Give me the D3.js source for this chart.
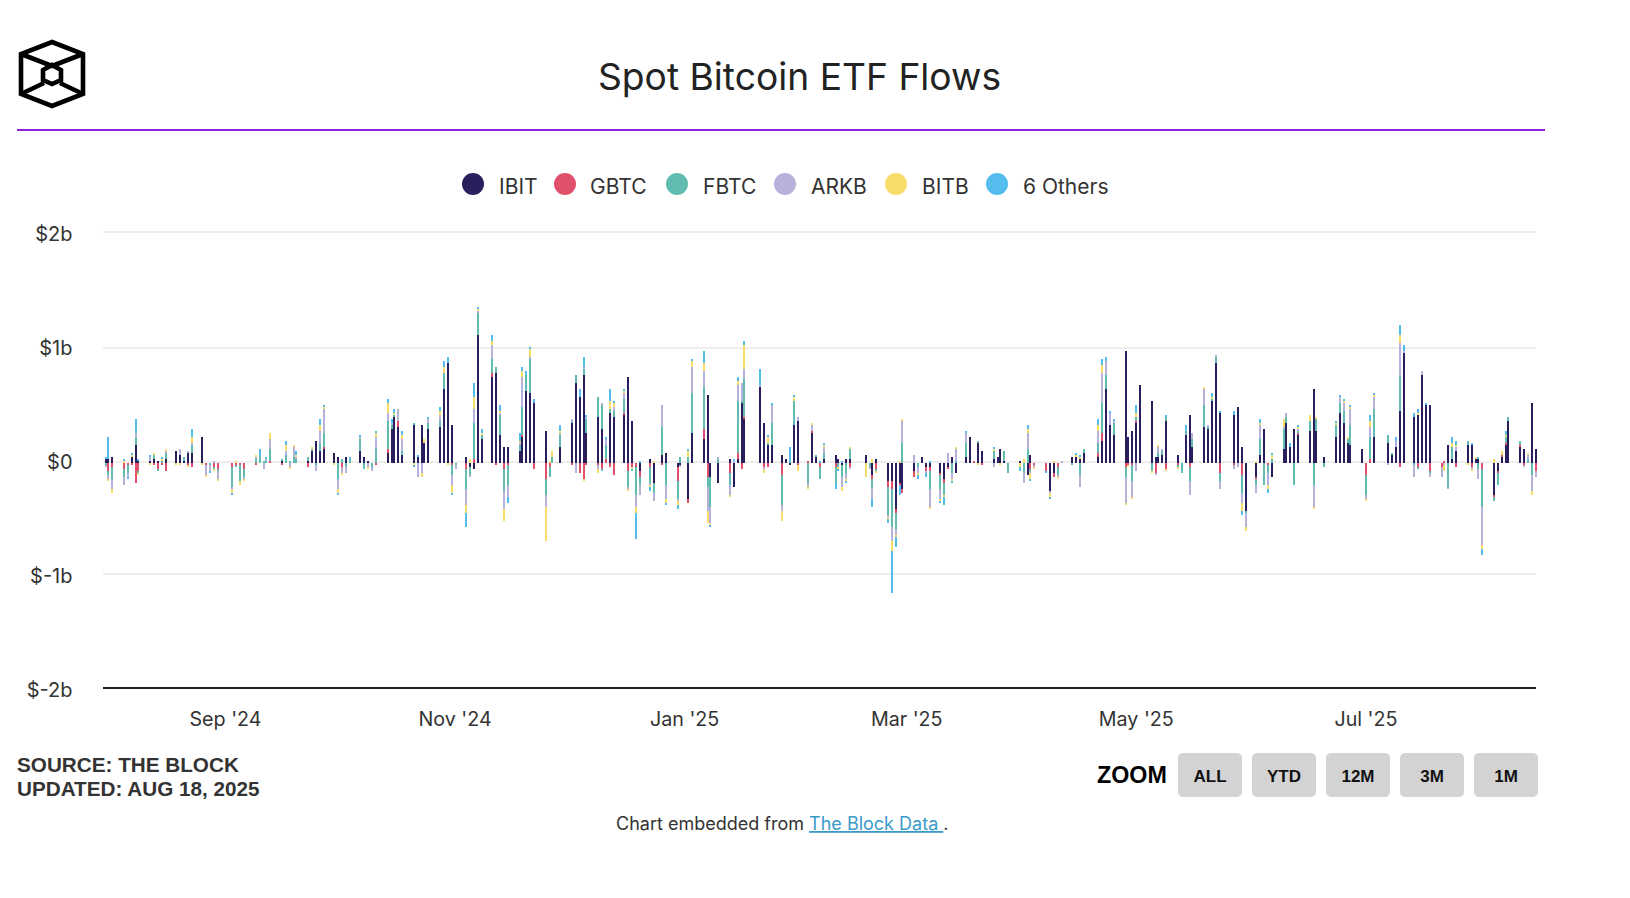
<!DOCTYPE html>
<html>
<head>
<meta charset="utf-8">
<style>
html, body { margin: 0; padding: 0; background: #fff; }
svg { display: block; }
text { font-family: "Inter", "Noto Sans", sans-serif; fill: #333; }
.bold { font-family: "Liberation Sans", Arial, sans-serif; font-weight: 700; }
</style>
</head>
<body>
<svg id="chart" width="1630" height="898"></svg>
<script src="https://d3js.org/d3.v7.min.js"></script>
<script>
// daily net flows in $m, one value per weekday from Jul 31 2024 to Aug 15 2025 (holidays are 0)
const ibit = [35,35,53,
  0,0,53,158,18, 18,35,18,0,35, 105,70,18,88,88, 228,0,0,0,0,
  0,0,0,0,0, 0,0,0,0,0, 18,0,0,0,0, 18,105,193,105,123,
  88,53,0,53,0, 105,53,18,0,0, 88,298,403,315,70, 333,53,333,175,298,
  315,648,875,333,0, 53,-35,-53,1120,210, 753,788,245,140,140, 105,228,630,613,525, 280,0,0,0,140,
  350,700,578,770,263, 403,298,0,438,403, 420,753,368,0,-70, 35,-175,0,70,88,
  -35,-18,0,-315,263, 210,595,-123,0,-175, 35,-210,35,525,385, 0,665,350,158,158, 70,35,-18,333,368,
  0,263,53,0,35, 70,35,-18,35,35, 0,70,0,-105,35, -158,-158,-403,-175,-228,
  -70,0,53,-35,-35, -88,-140,-35,53,-88, 53,228,0,175,105, 35,53,123,18,0,
  18,0,-105,70,0, 0,-245,-88,0,0, 53,53,35,88,0, 53,193,648,333,245,
  980,228,280,350,683, 543,53,53,70,368, 70,0,245,420,140, 315,298,543,875,438, 0,420,490,140,-420,
  -123,70,298,0,-123, 123,350,140,298,245, 280,648,280,0,53, 228,438,350,175,158,
  123,0,0,228,0, 175,70,140,455,963, 403,420,770,508,508, 0,0,158,35,105,
  158,158,35,35,0, -280,-70,53,158,368, 140,123,0,525,123];
const gbtc = [0,-70,-35,
  -53,-18,-18,-175,-70, 0,-18,-53,-18,-70, 0,0,0,-18,-35, 0,-18,0,-35,-53,
  0,-35,-18,-18,-53, -18,0,0,0,18, -18,0,0,0,0, -35,0,0,0,18,
  0,0,-35,0,0, 0,0,0,0,-18, 35,0,0,53,0, 0,0,0,0,0,
  0,0,0,-18,0, -53,0,35,0,0, 35,-18,0,-53,-18, 0,18,0,0,-53, -140,-35,0,0,0,
  -18,0,-88,-140,-18, -18,-53,35,-35,-105, 18,-70,-35,-35,-53, -35,0,0,-18,0,
  -123,0,0,-35,0, 88,-123,0,0,0, -88,0,53,-53,18, 0,0,-35,-35,0, -105,0,0,0,-18,
  18,18,0,-35,0, -35,0,0,0,-35, 0,0,0,-35,-53, -53,-70,-35,-18,-35,
  -53,0,0,-35,-35, -18,-35,-18,0,0, 0,0,18,0,-18, 0,0,0,0,0,
  0,0,0,-53,-18, -70,0,-35,-35,0, 0,0,0,0,0, 35,70,0,0,0,
  -35,-18,-18,18,0, 0,-88,0,0,-53, -18,0,0,-35,0, 0,0,0,0,-88, 0,-18,0,-105,0,
  -18,0,0,-18,0, 0,0,0,0,18, 0,0,0,0,0, 0,0,0,0,0,
  0,-105,35,0,0, 0,0,0,-35,0, 0,-35,0,0,-70, -35,18,0,0,-35,
  0,-35,0,0,-53, -18,-18,18,18,0, 18,-18,0,0,-70];
const fbtc = [-18,-35,-105,
  -70,-70,0,70,-18, 0,35,-18,18,53, 0,0,35,0,70, 0,0,-18,-18,-18,
  0,-175,-18,-140,-70, 35,70,18,18,105, 18,70,18,53,35, 35,18,-18,70,123,
  0,-140,35,-35,35, 105,-53,0,-35,123, 245,35,18,0,35, 18,0,0,0,53,
  53,140,0,-88,-18, -175,-70,315,193,35, 123,53,175,-193,-175, 53,245,140,298,0, -140,-88,53,0,105,
  18,70,0,53,123, 175,210,123,35,53, 123,-140,0,-245,-70, -140,-88,0,245,-193,
  -158,53,0,53,350, 368,-88,-263,0,35, -105,0,455,18,333, 0,0,0,18,193, -263,0,18,210,0,
  -175,0,18,-105,53, -140,-35,-105,-88,88, 0,0,-35,-88,-18, -245,-333,-140,0,175,
  0,-35,0,0,-158, -123,-105,0,-88,18, 123,0,0,18,0, 70,0,0,88,-88,
  0,-88,123,-18,0, 0,0,0,-70,0, -18,0,-105,35,0, 88,263,123,0,105,
  -88,0,-140,35,0, -70,0,35,35,35, -18,-88,35,-123,70, 193,18,18,53,-70, 0,0,0,-158,-18,
  -53,140,-193,-70,35, 175,53,0,-193,18, 88,-193,105,0,-35, 105,88,105,35,175,
  0,-175,193,245,0, 70,18,0,315,0, -18,-18,0,0,-18, 0,0,-210,105,0,
  35,0,0,-53,-333, -35,-105,0,53,35, 35,0,35,-105,0];
const arkb = [-18,-35,-88,
  -70,-35,0,35,0, 35,0,0,0,18, 0,53,0,18,18, 0,-88,-53,18,-70,
  0,-18,0,0,-18, 18,0,-53,18,88, 0,35,-35,88,18, 0,0,-53,105,210,
  0,-88,-53,-53,0, 18,0,-35,-35,105, 70,18,0,105,105, 0,-123,-88,0,35,
  53,0,0,-88,-35, -140,-18,123,18,0, 123,0,18,-158,-105, 18,263,0,18,0, -105,0,0,0,18,
  18,-88,0,18,18, -35,18,53,0,35, 53,-18,0,-105,-88, -18,-70,0,193,-123,
  -18,-18,0,0,228, 140,-210,-140,0,18, -88,18,140,158,88, 0,18,-18,0,158, -53,0,0,0,35,
  -35,53,0,0,53, 0,0,-88,-53,-18, 0,0,-18,-88,0, -18,-123,-53,0,193,
  70,-53,0,-18,-158, -88,0,88,-53,105, 88,0,0,0,0, -35,0,0,0,0,
  0,-88,140,-18,-18, 0,-18,0,-18,18, 0,0,-105,0,0, 105,263,123,105,18,
  -228,0,-140,-70,0, 0,-18,53,18,0, 0,0,0,-123,53, 140,18,0,18,-70, 0,-35,-35,-88,-123,
  -70,123,0,-105,0, 18,35,0,0,18, 0,-193,0,0,0, 0,53,70,0,140,
  0,-35,88,105,0, -18,0,53,280,18, -105,0,35,0,-35, -88,-18,-18,0,35,
  0,-18,0,-88,-333, 0,0,0,0,0, 0,-18,35,-140,-53];
const bitb = [0,-18,-35,
  18,0,18,0,-18, -18,18,0,18,18, -18,-18,0,-18,53, -18,-18,0,-18,-18,
  0,-35,18,-35,-18, 18,0,0,0,53, 0,53,-18,18,18, 0,18,0,53,18,
  -18,-35,-18,0,0, 0,0,-18,0,35, 88,0,18,0,35, -18,0,-35,35,0,
  35,53,-18,-70,0, -70,35,105,18,18, 35,0,18,-105,0, 18,53,0,70,0, -298,18,53,0,18,
  0,0,0,-18,0, -35,0,0,70,35, 18,-18,-18,-53,0, -18,18,0,0,-35,
  -35,0,0,53,53, 70,-105,-18,0,0, -18,0,35,0,210, 0,0,-35,53,0, -88,0,0,35,-53,
  -18,18,0,0,18, 0,-18,-35,-18,18, 0,-123,0,35,-18, -18,-88,-18,18,18,
  0,-18,0,0,-18, -18,-18,0,-18,18, 0,0,0,-18,0, 18,0,-18,0,0,
  -35,35,35,-53,-18, 0,-35,18,-18,0, 0,18,18,0,0, 53,70,0,0,0,
  -18,-18,-18,35,0, -18,0,18,0,-18, -18,0,0,0,0, 18,0,18,0,0, 0,0,0,-70,-35,
  18,18,0,-35,35, 70,0,0,0,18, 53,-18,18,0,0, 18,0,18,18,18,
  0,-18,53,18,0, 0,0,0,70,0, 0,18,0,0,0, 0,-53,0,35,18,
  -18,-18,18,0,-35, 35,0,35,18,0, 0,0,18,-35,0];
const others = [18,193,0,
  18,-18,18,123,18, 18,0,0,18,0, 0,0,0,0,70, 0,0,-18,0,0,
  0,-18,0,0,0, 0,53,0,18,0, 0,35,0,0,35, 0,0,0,53,18,
  0,-18,0,0,18, 18,0,0,0,18, 35,35,35,0,35, -18,18,0,0,18,
  35,53,53,-18,0, -123,0,123,18,35, 53,0,53,0,-53, 70,35,35,18,35, 0,0,0,0,53,
  0,0,70,88,18, 0,-18,18,105,18, 18,0,-18,-228,18, -35,0,0,0,-18,
  -35,0,0,18,18, 105,0,-18,0,0, 0,18,35,0,35, 0,140,0,18,18, 0,0,123,18,0,
  0,0,0,18,18, -53,-18,18,-18,0, 0,0,0,-70,0, -35,-368,-88,-88,0,
  0,-35,0,-35,18, -18,-70,0,-18,0, 18,0,0,0,0, 18,0,0,0,0,
  -35,0,35,-18,0, -18,-18,0,0,0, 0,18,18,0,0, 53,53,35,18,18,
  0,0,0,70,0, 0,0,0,0,18, 0,0,53,0,0, 0,0,35,0,18, 0,35,0,-35,0,
  0,35,0,-35,18, 0,0,35,0,18, 0,0,0,0,0, 18,18,18,0,18,
  0,0,53,18,0, 0,0,35,88,53, 35,35,0,18,0, 0,0,0,53,35,
  0,18,0,18,-53, 0,0,0,35,0, 0,0,0,0,0];

const seriesNames = ["IBIT", "GBTC", "FBTC", "ARKB", "BITB", "6 Others"];
const seriesColors = ["#2a1f5c", "#e0506a", "#62bcb0", "#b6b2dc", "#f7dc6a", "#55bdee"];
const seriesValues = [ibit, gbtc, fbtc, arkb, bitb, others];
const yTicks = [-2000, -1000, 0, 1000, 2000];
const monthTicks = ["2024-09-01", "2024-11-01", "2025-01-01", "2025-03-01", "2025-05-01", "2025-07-01"];
const zoomLabels = ["ALL", "YTD", "12M", "3M", "1M"];

const startDay = new Date(Date.UTC(2024, 6, 31));
const endDay = new Date(Date.UTC(2025, 7, 15));
const days = d3.utcDay.range(startDay, d3.utcDay.offset(endDay, 1))
    .filter(d => d.getUTCDay() != 0 && d.getUTCDay() != 6);

const rows = days.map((d, i) => {
    const row = {date: d};
    seriesNames.forEach((name, j) => { row[name] = seriesValues[j][i]; });
    return row;
});

const svg = d3.select("#chart");
const x = d3.scaleUtc().domain([startDay, endDay]).range([104, 1534.3]);
const y = d3.scaleLinear().domain([-2000, 2000]).range([688, 232]);
const plotRight = 1536;

// the original bars sit on a 2px grid, odd pixels only
const odd = v => Math.round((v - 1) / 2) * 2 + 1;
const barY = v => odd(y(v) + 3);
// the original also draws the $0 and $1b rows 2px lower than an even spacing
const gridY = d => y(d) + (d == 0 || d == 1000 ? 2 : 0);

// header
svg.append("text").attr("x", 799.5).attr("y", 90).attr("text-anchor", "middle")
    .attr("font-size", 37.2).style("fill", "#222").text("Spot Bitcoin ETF Flows");
svg.append("line").attr("x1", 17).attr("x2", 1545).attr("y1", 130).attr("y2", 130)
    .attr("stroke", "#8f23dd").attr("stroke-width", 2);

// logo
const logo = svg.append("g").attr("fill", "none").attr("stroke", "#000")
    .attr("stroke-width", 4.6).attr("stroke-linejoin", "miter");
logo.append("polygon").attr("points", "52,42 83,54 83,94 52,106 21,94 21,54");
logo.append("polygon").attr("points", "52,65 61,70 61,80 52,84 43,80 43,70");
logo.append("path").attr("d", "M21,54L52,66L83,54M21,94L44,83M83,94L60,83");

// legend
const legendCircleX = [473, 565, 677, 785, 896, 997];
const legendTextX = [499, 590, 703, 811, 922, 1023];
seriesNames.forEach((name, i) => {
    svg.append("circle").attr("cx", legendCircleX[i]).attr("cy", 184).attr("r", 11).attr("fill", seriesColors[i]);
    svg.append("text").attr("x", legendTextX[i]).attr("y", 194).attr("font-size", 21).text(name);
});

// y axis with gridlines
const yAxis = svg.append("g").attr("transform", "translate(103,0)")
    .call(d3.axisLeft(y).tickValues(yTicks).tickSize(-(plotRight - 103)).offset(0)
        .tickFormat(d => d == 0 ? "$0" : "$" + d / 1000 + "b"));
yAxis.select(".domain").remove();
yAxis.selectAll(".tick").attr("transform", d => `translate(0,${gridY(d)})`);
yAxis.selectAll(".tick line").attr("stroke", d => d == -2000 ? "#222" : "#eeeeee").attr("stroke-width", 2);
yAxis.selectAll(".tick text").attr("x", -30.5).attr("y", d => y(d) + 2 - gridY(d)).attr("dy", 7).attr("font-size", 20)
    .style("font-family", '"Inter", "Noto Sans", sans-serif').style("fill", "#333");

// stacked bars
const stack = d3.stack().keys(seriesNames).offset(d3.stackOffsetDiverging);
svg.append("g").selectAll("g")
    .data(stack(rows))
    .join("g")
    .attr("fill", (d, i) => seriesColors[i])
    .selectAll("rect")
    .data(d => d.filter(p => p[0] != p[1]))
    .join("rect")
    .attr("x", d => odd(x(d.data.date)))
    .attr("width", 2)
    .attr("y", d => barY(Math.max(d[0], d[1])))
    .attr("height", d => barY(Math.min(d[0], d[1])) - barY(Math.max(d[0], d[1])));

// month labels
const xAxis = svg.append("g").attr("transform", "translate(0.5,706)")
    .call(d3.axisBottom(x).tickValues(monthTicks.map(d => new Date(d + "T00:00:00Z")))
        .tickSize(0).tickFormat(d3.utcFormat("%b '%y")));
xAxis.select(".domain").remove();
xAxis.selectAll(".tick text").attr("y", 6).attr("font-size", 19.7)
    .style("font-family", '"Inter", "Noto Sans", sans-serif').style("fill", "#333");

// source note
svg.append("text").attr("class", "bold").attr("x", 17).attr("y", 772).attr("font-size", 20.7).text("SOURCE: THE BLOCK");
svg.append("text").attr("class", "bold").attr("x", 17).attr("y", 796).attr("font-size", 20.7).text("UPDATED: AUG 18, 2025");

// zoom buttons, they do nothing here
svg.append("text").attr("class", "bold").attr("x", 1097).attr("y", 783).attr("font-size", 23.3).style("fill", "#000").text("ZOOM");
const button = svg.append("g").selectAll("g").data(zoomLabels).join("g")
    .attr("transform", (d, i) => `translate(${1178 + i * 74},753)`);
button.append("rect").attr("width", 64).attr("height", 44).attr("rx", 5).attr("fill", "#d3d3d3");
button.append("text").attr("class", "bold").attr("x", 32).attr("y", 29).attr("text-anchor", "middle")
    .attr("font-size", 17).style("fill", "#111").text(d => d);

// footer
const footer = svg.append("text").attr("x", 616).attr("y", 830).attr("font-size", 18);
footer.append("tspan").text("Chart embedded from ");
footer.append("tspan").style("fill", "#3a9ac9").attr("text-decoration", "underline").text("The Block Data ");
footer.append("tspan").text(".");
</script>
</body>
</html>
